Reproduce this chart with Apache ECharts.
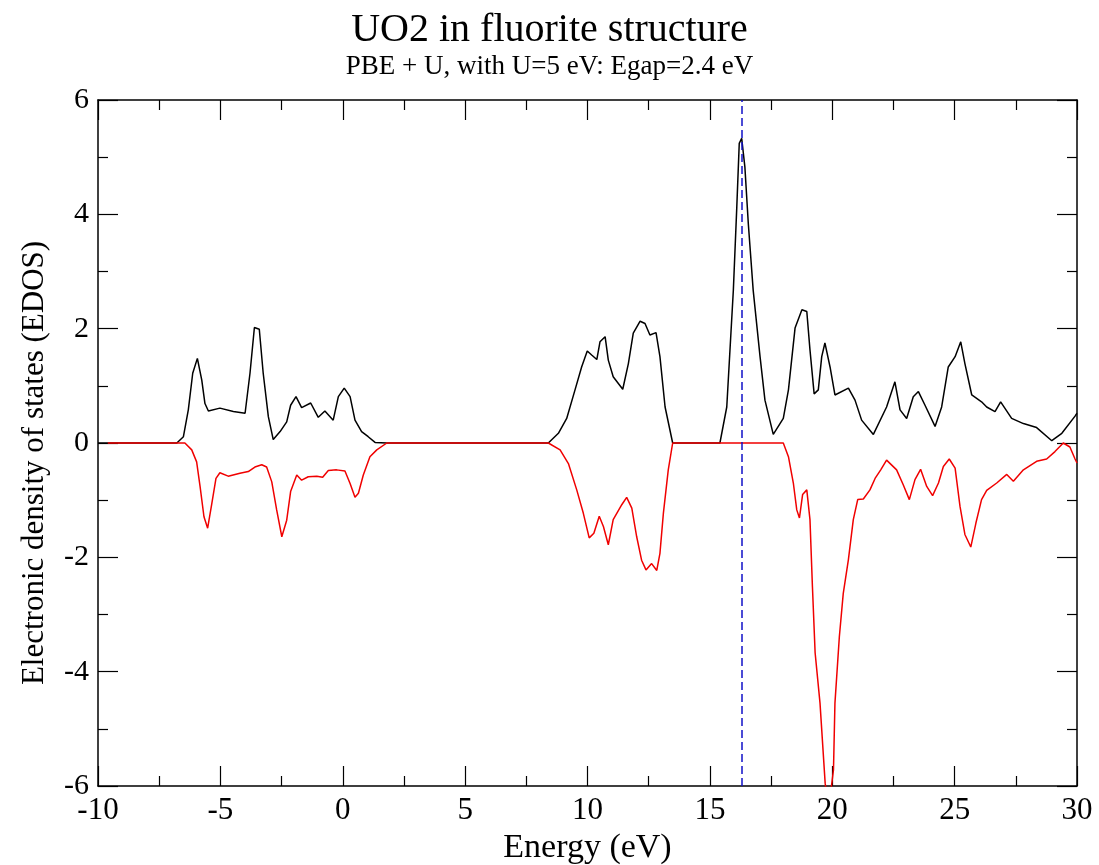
<!DOCTYPE html>
<html>
<head>
<meta charset="utf-8">
<script src="https://cdn.jsdelivr.net/npm/echarts@6/dist/echarts.min.js"></script>
<style>
  html, body { margin: 0; padding: 0; background: #fff; }
  #chart { width: 1099px; height: 865px; }
</style>
</head>
<body>
<div id="chart"></div>
<script>
// spin up (black) -- energy in eV, EDOS
const energyUp = [-10, -6.78, -6.51, -6.31, -6.13, -5.94, -5.76, -5.63, -5.49, -5.02, -4.47, -3.99, -3.79, -3.61, -3.41, -3.25, -3.04, -2.84, -2.56, -2.29, -2.13, -1.91, -1.68, -1.31, -1.00, -0.73, -0.39, -0.18, 0.06, 0.30, 0.50, 0.77, 1.04, 1.32, 1.80,
  8.40, 8.81, 9.15, 9.49, 9.76, 9.99, 10.17, 10.38, 10.51, 10.72, 10.85, 11.05, 11.44, 11.67, 11.87, 12.15, 12.35, 12.55, 12.80, 12.96, 13.17, 13.48,
  15.41, 15.69, 15.96, 16.10, 16.20, 16.30, 16.43, 16.57, 16.77, 17.05, 17.25, 17.59, 18.00, 18.21, 18.48, 18.76, 18.96, 19.09, 19.26, 19.43, 19.57, 19.70, 19.91, 20.11, 20.66, 20.93, 21.20, 21.68, 22.22, 22.56, 22.77, 23.04, 23.31, 23.52, 23.79, 24.20, 24.47, 24.74, 25.02, 25.25, 25.42, 25.70, 26.10, 26.31, 26.65, 26.88, 27.33, 27.81, 28.35, 28.97, 29.38, 29.92, 30]
const dosUp = [0, 0, 0.11, 0.58, 1.22, 1.48, 1.10, 0.69, 0.56, 0.61, 0.55, 0.52, 1.22, 2.02, 1.99, 1.22, 0.46, 0.06, 0.20, 0.37, 0.66, 0.81, 0.62, 0.70, 0.45, 0.56, 0.40, 0.81, 0.96, 0.81, 0.40, 0.20, 0.11, 0.01, 0,
  0, 0.17, 0.43, 0.93, 1.33, 1.61, 1.54, 1.46, 1.77, 1.86, 1.45, 1.16, 0.94, 1.39, 1.92, 2.13, 2.09, 1.89, 1.93, 1.51, 0.63, 0,
  0, 0.63, 2.68, 4.13, 5.24, 5.33, 4.83, 3.84, 2.67, 1.51, 0.75, 0.15, 0.43, 0.93, 2.01, 2.33, 2.30, 1.63, 0.86, 0.93, 1.51, 1.75, 1.33, 0.84, 0.96, 0.75, 0.40, 0.15, 0.63, 1.07, 0.58, 0.43, 0.81, 0.90, 0.66, 0.29, 0.63, 1.33, 1.51, 1.77, 1.39, 0.84, 0.72, 0.63, 0.55, 0.72, 0.43, 0.34, 0.27, 0.04, 0.17, 0.47, 0.52]

// spin down (red)
const energyDn = [-9.6, -6.45, -6.17, -5.97, -5.83, -5.67, -5.52, -5.35, -5.18, -5.02, -4.68, -4.20, -3.86, -3.59, -3.31, -3.11, -2.90, -2.70, -2.49, -2.29, -2.13, -1.88, -1.68, -1.41, -1.06, -0.82, -0.59, -0.25, 0.09, 0.30, 0.50, 0.64, 0.84, 1.11, 1.39, 1.80,
  8.40, 8.88, 9.22, 9.56, 9.83, 10.07, 10.26, 10.48, 10.65, 10.85, 11.05, 11.40, 11.60, 11.81, 12.01, 12.21, 12.39, 12.62, 12.83, 12.96, 13.10, 13.30, 13.48,
  18.00, 18.21, 18.41, 18.55, 18.66, 18.79, 18.96, 19.09, 19.19, 19.30, 19.50, 19.71, 19.85, 20.05, 20.11, 20.29, 20.45, 20.66, 20.86, 21.04, 21.27, 21.54, 21.75, 21.98, 22.22, 22.63, 22.90, 23.15, 23.38, 23.61, 23.86, 24.10, 24.34, 24.54, 24.78, 25.02, 25.22, 25.42, 25.66, 25.87, 26.10, 26.31, 26.72, 27.13, 27.40, 27.81, 28.35, 28.76, 29.10, 29.44, 29.71, 29.92, 30]
const dosDn = [0, 0, -0.12, -0.33, -0.76, -1.29, -1.49, -1.06, -0.62, -0.52, -0.58, -0.53, -0.50, -0.42, -0.38, -0.42, -0.68, -1.17, -1.64, -1.35, -0.85, -0.56, -0.65, -0.59, -0.58, -0.60, -0.48, -0.47, -0.49, -0.71, -0.95, -0.88, -0.56, -0.24, -0.12, 0,
  0, -0.12, -0.36, -0.82, -1.23, -1.66, -1.58, -1.28, -1.46, -1.78, -1.34, -1.08, -0.95, -1.14, -1.64, -2.05, -2.22, -2.11, -2.23, -1.93, -1.23, -0.47, 0,
  0, -0.24, -0.70, -1.17, -1.31, -0.90, -0.82, -1.34, -2.51, -3.67, -4.55, -5.95, -6.4, -5.72, -4.55, -3.39, -2.63, -2.04, -1.34, -0.99, -0.98, -0.82, -0.62, -0.47, -0.30, -0.47, -0.73, -0.99, -0.64, -0.46, -0.76, -0.92, -0.70, -0.41, -0.28, -0.44, -1.11, -1.60, -1.82, -1.40, -0.99, -0.83, -0.70, -0.55, -0.67, -0.47, -0.32, -0.28, -0.15, 0, -0.07, -0.28, -0.35]

const fermiLevel = 16.3

const serif = '"Liberation Serif", "DejaVu Serif", serif'
const chart = echarts.init(document.getElementById('chart'))

const tickStyle = { color: '#000', width: 1.2 }
const frameLine = { onZero: false, lineStyle: { color: '#000', width: 1.5 } }
chart.setOption({
  animation: false,
  title: {
    text: 'UO2 in fluorite structure',
    subtext: 'PBE + U, with U=5 eV: Egap=2.4 eV',
    left: 'center',
    top: 5,
    itemGap: 3,
    textStyle: { fontFamily: serif, fontSize: 40, fontWeight: 'normal', color: '#000' },
    subtextStyle: { fontFamily: serif, fontSize: 27, color: '#000' }
  },
  grid: {
    left: 98,
    right: 22,
    top: 100,
    bottom: 79,
    containLabel: false,
    outerBoundsMode: 'none'
  },
  xAxis: [{
    type: 'value',
    min: -10,
    max: 30,
    interval: 5,
    name: 'Energy (eV)',
    nameLocation: 'middle',
    nameGap: 38,
    nameTextStyle: { fontFamily: serif, fontSize: 34, color: '#000' },
    axisLine: frameLine,
    axisTick: { inside: true, length: 20, lineStyle: tickStyle },
    minorTick: { show: true, splitNumber: 2, length: 10, lineStyle: tickStyle },
    axisLabel: { fontFamily: serif, fontSize: 31, color: '#000', margin: 9 },
    splitLine: { show: false }
  }, {
    type: 'value',
    position: 'top',
    min: -10,
    max: 30,
    interval: 5,
    axisLine: frameLine,
    axisTick: { inside: true, length: 20, lineStyle: tickStyle },
    minorTick: { show: true, splitNumber: 2, length: 10, lineStyle: tickStyle },
    axisLabel: { show: false },
    splitLine: { show: false }
  }],
  yAxis: [{
    type: 'value',
    min: -6,
    max: 6,
    interval: 2,
    name: 'Electronic density of states (EDOS)',
    nameLocation: 'middle',
    nameGap: 48,
    nameTextStyle: { fontFamily: serif, fontSize: 31, color: '#000', padding: [0, 40, 0, 0] },
    axisLine: frameLine,
    axisTick: { inside: true, length: 20, lineStyle: tickStyle },
    minorTick: { show: true, splitNumber: 2, length: 10, lineStyle: tickStyle },
    axisLabel: { fontFamily: serif, fontSize: 30, color: '#000', margin: 9 },
    splitLine: { show: false }
  }, {
    type: 'value',
    position: 'right',
    min: -6,
    max: 6,
    interval: 2,
    axisLine: { show: true, onZero: false, lineStyle: { color: '#000', width: 1.5 } },
    axisTick: { show: true, inside: true, length: 20, lineStyle: tickStyle },
    minorTick: { show: true, splitNumber: 2, length: 10, lineStyle: tickStyle },
    axisLabel: { show: false },
    splitLine: { show: false }
  }],
  series: [{
    name: 'up',
    type: 'line',
    data: energyUp.map((e, i) => [e, dosUp[i]]),
    showSymbol: false,
    clip: true,
    lineStyle: { color: '#000', width: 1.5 },
    itemStyle: { color: '#000' },
    markLine: {
      silent: true,
      symbol: 'none',
      label: { show: false },
      lineStyle: { color: '#1010c8', type: [8, 4], width: 1.5 },
      data: [{ xAxis: fermiLevel }]
    }
  }, {
    name: 'down',
    type: 'line',
    data: energyDn.map((e, i) => [e, dosDn[i]]),
    showSymbol: false,
    clip: true,
    lineStyle: { color: '#f00000', width: 1.5 },
    itemStyle: { color: '#f00000' }
  }]
})
</script>
</body>
</html>
